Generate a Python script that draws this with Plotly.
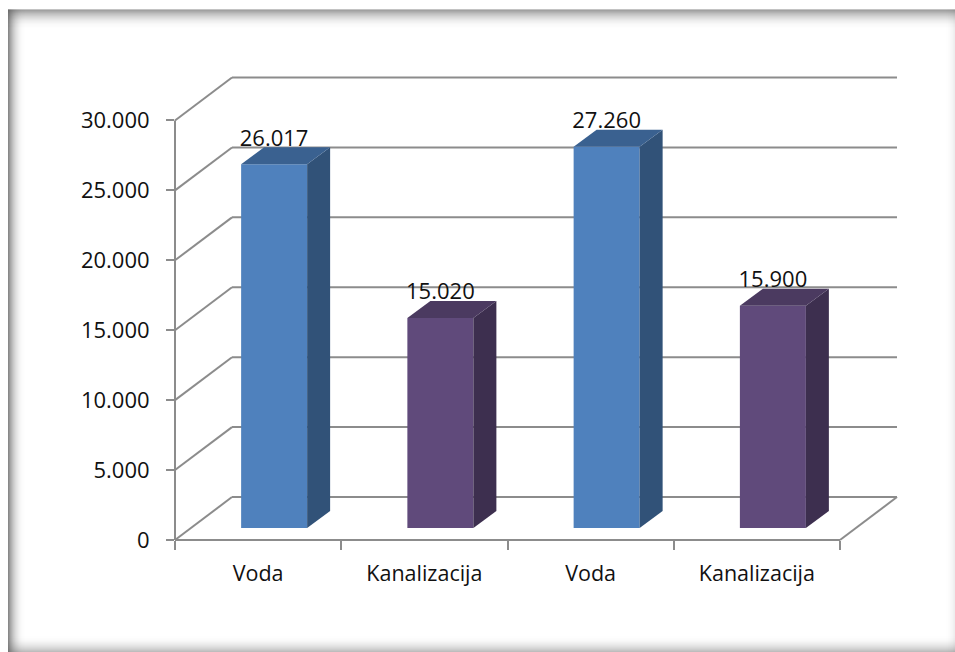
import plotly.graph_objects as go

categories = ["Voda", "Kanalizacija", "Voda", "Kanalizacija"]
values = [26017, 15020, 27260, 15900]
y_ticks = [0, 5000, 10000, 15000, 20000, 25000, 30000]
y_tick_labels = ["0", "5.000", "10.000", "15.000", "20.000", "25.000", "30.000"]
front_colors = ["#4F81BD", "#604A7B", "#4F81BD", "#604A7B"]
side_colors = ["#315278", "#3D2F4F", "#315278", "#3D2F4F"]
top_colors = ["#3A6190", "#4B3A60", "#3A6190", "#4B3A60"]

W, H = 955, 652
L, R, T, B = 175.0, 897.0, 76.5, 540.0
PX_PER_CAT = 166.25
PX_PER_UNIT = 0.014
FONT = "Open Sans"
GREY = "#8C8C8C"
TXT = "#111111"

def ux(px):
    return px / PX_PER_CAT

def uy(px):
    return px / PX_PER_UNIT

n = len(categories)
wall_dx, wall_dy = ux(57), uy(43)      # depth of the floor
bar_dx0, bar_dy0 = ux(16), uy(12)      # bar front plane, behind the axis plane
bar_dx, bar_dy = ux(23), uy(17)        # depth of a bar
bar_w = ux(66)
x_max = (R - L) / PX_PER_CAT
y_max = (B - T) / PX_PER_UNIT

def px(xp):
    return (xp - L) / (R - L)

def py(yp):
    return (B - yp) / (B - T)

shapes = []

# Picture frame: soft inner shadow strips
def strip(x0, y0, x1, y1, alpha):
    shapes.append(dict(type="rect", xref="paper", yref="paper", layer="below",
                       x0=px(x0), x1=px(x1), y0=py(y0), y1=py(y1),
                       line_width=0, fillcolor=f"rgba(90,90,90,{alpha:.3f})"))

for i in range(18):
    a = 0.72 * (1 - i / 18) ** 2.4
    strip(8 + i, 9, 9 + i, 652, a)          # left
for i in range(20):
    a = 0.72 * (1 - i / 20) ** 2.4
    strip(8, 9 + i, 955, 10 + i, a)         # top
for i in range(16):
    a = 0.40 * ((i + 1) / 16) ** 2
    strip(8, 636 + i, 955, 637 + i, a)      # bottom
for i in range(10):
    a = 0.10 * ((i + 1) / 10) ** 2
    strip(945 + i, 9, 946 + i, 652, a)      # right

# Walls and floor lines of the chart (paper-referenced so they are not clipped)
line = dict(color=GREY, width=2)

def seg(xa, ya, xb, yb):
    shapes.append(dict(type="line", xref="paper", yref="paper", layer="below", line=line,
                       x0=xa / x_max, y0=ya / y_max, x1=xb / x_max, y1=yb / y_max))

for v in y_ticks:
    seg(0, v, wall_dx, v + wall_dy)
    seg(wall_dx, v + wall_dy, n + wall_dx, v + wall_dy)
seg(0, 0, 0, y_ticks[-1])
seg(0, 0, n, 0)
seg(n, 0, n + wall_dx, wall_dy)

centers = [i + 0.5 + bar_dx0 for i in range(n)]

fig = go.Figure()
fig.add_trace(go.Bar(x=centers, y=values, base=bar_dy0, width=bar_w,
                     marker=dict(color=front_colors, line_width=0),
                     hoverinfo="skip", showlegend=False))

for c, v, sc, tc in zip(centers, values, side_colors, top_colors):
    xl, xr = c - bar_w / 2, c + bar_w / 2
    y0, y1 = bar_dy0, bar_dy0 + v
    fig.add_trace(go.Scatter(
        x=[xr, xr + bar_dx, xr + bar_dx, xr, xr],
        y=[y0, y0 + bar_dy, y1 + bar_dy, y1, y0],
        mode="lines", fill="toself", fillcolor=sc, line=dict(width=0, color=sc),
        hoverinfo="skip", showlegend=False))
    fig.add_trace(go.Scatter(
        x=[xl, xl + bar_dx, xr + bar_dx, xr, xl],
        y=[y1, y1 + bar_dy, y1 + bar_dy, y1, y1],
        mode="lines", fill="toself", fillcolor=tc, line=dict(width=0, color=tc),
        hoverinfo="skip", showlegend=False))

fig.add_trace(go.Scatter(
    x=centers, y=[v + bar_dy0 + uy(24) for v in values],
    text=[f"{v:,}".replace(",", ".") for v in values],
    mode="text", textposition="middle center",
    textfont=dict(family=FONT, size=22, color=TXT),
    hoverinfo="skip", showlegend=False, cliponaxis=False))

fig.update_layout(
    width=W, height=H, autosize=False,
    margin=dict(l=L, r=W - R, t=T, b=H - B, pad=0),
    paper_bgcolor="white", plot_bgcolor="rgba(0,0,0,0)",
    shapes=shapes, hovermode=False,
    font=dict(family=FONT, size=22, color=TXT),
    xaxis=dict(range=[0, x_max], showgrid=False, zeroline=False,
               showline=False, tickmode="array",
               tickvals=[i + 0.5 for i in range(n)], ticktext=categories,
               ticks="outside", ticklen=14, tickcolor="rgba(0,0,0,0)",
               tickfont=dict(family=FONT, size=21.5, color=TXT),
               minor=dict(tickmode="array", tickvals=list(range(n + 1)),
                          ticks="outside", ticklen=9, tickwidth=1.5,
                          tickcolor=GREY, showgrid=False)),
    yaxis=dict(range=[0, y_max], showgrid=False, zeroline=False,
               showline=False, tickmode="array", tickvals=y_ticks,
               ticktext=y_tick_labels, ticks="outside", ticklen=8, tickwidth=2,
               tickcolor=GREY, ticklabelstandoff=12,
               tickfont=dict(family=FONT, size=22, color=TXT)),
)

fig.write_html("out.html", config={"displayModeBar": False},
               post_script="document.body.style.margin='0';document.documentElement.style.overflow='hidden';")
